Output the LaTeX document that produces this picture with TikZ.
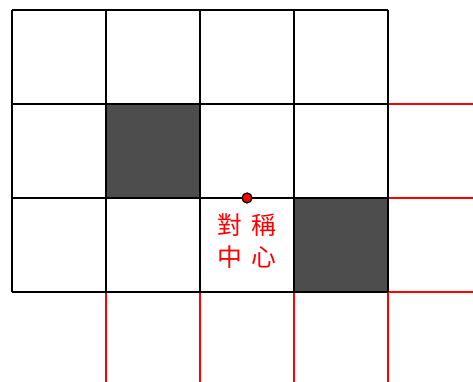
\documentclass[tikz,border=0pt]{standalone}
\usepackage{fontspec}
\newfontfamily\cjk{Noto Sans CJK TC}
\usepackage{xcolor}
\usepackage{tikz}
\usetikzlibrary{positioning}

\definecolor{cellgray}{HTML}{4D4D4D}

\begin{document}
\begin{tikzpicture}[x=2cm, y=2cm, line width=1.5pt]
            \useasboundingbox (-0.128,-0.957) rectangle (4.904,3.106);
            % 塗黑的格子
            \fill[cellgray] (1,1) rectangle (2,2);
            \fill[cellgray] (3,0) rectangle (4,1);

            % 延伸的紅線
            \foreach \y in {1,2,3} \draw[red, line width=1.4pt] (4,\y-1) -- (4.904,\y-1);
            \foreach \x in {1,2,3,4} \draw[red, line width=1.4pt] (\x,0) -- (\x,-0.957);

            % 格線
            \draw[black, step=2cm] (0,0) grid (4,3);

            % 對稱中心
            \fill[red, draw=black, line width=0.8pt] (2.5,1) circle (3pt) coordinate (center);
            \node[red, font=\cjk\fontsize{15}{19}\selectfont, align=center, inner sep=0pt,
                  below=9pt of center] (label)
                {對\hspace{0.35em}稱\\中\hspace{0.35em}心};
        \end{tikzpicture}
\end{document}
